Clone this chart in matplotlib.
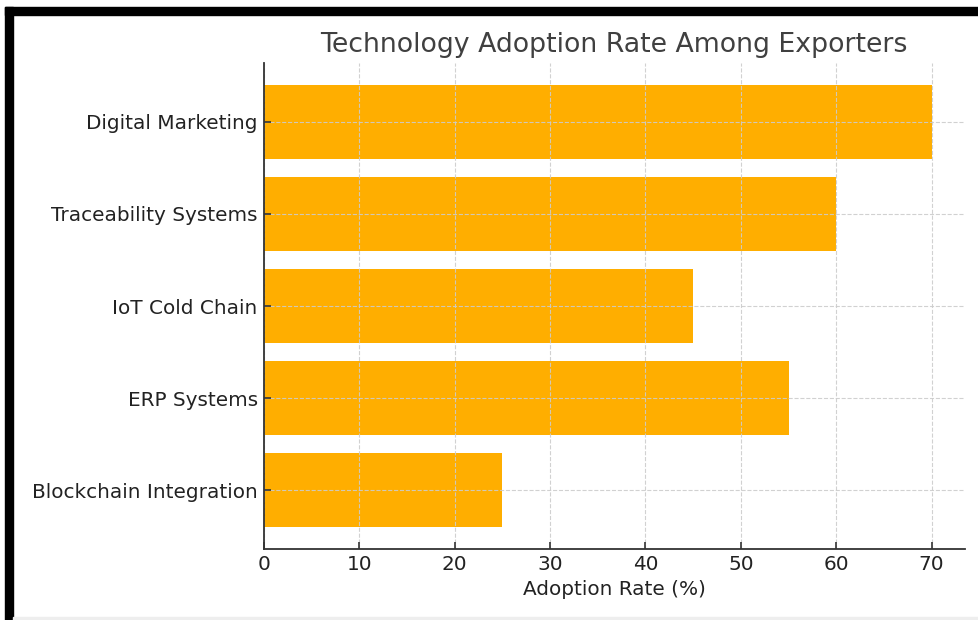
import matplotlib.pyplot as plt
from matplotlib.patches import Rectangle

categories = ["Blockchain Integration", "ERP Systems", "IoT Cold Chain",
              "Traceability Systems", "Digital Marketing"]
adoption = [25, 55, 45, 60, 70]

fig = plt.figure(figsize=(9.79, 6.2), dpi=100)
ax = fig.add_axes([264 / 979, 1 - 549 / 620, 701 / 979, 486 / 620])

ax.barh(categories, adoption, color="#ffae00", height=0.8)
ax.set_xlim(0, 73.5)
ax.grid(True, linestyle="--", color="#cccccc", linewidth=0.8, alpha=0.9)
ax.set_axisbelow(False)

for side in ["top", "right"]:
    ax.spines[side].set_visible(False)
for side in ["left", "bottom"]:
    ax.spines[side].set_color("#333333")
    ax.spines[side].set_linewidth(1.3)
    ax.spines[side].set_zorder(3)

ax.tick_params(direction="in", length=5, width=1.2, color="#333333",
               labelsize=14.4, labelcolor="#222222", pad=4.5)
ax.set_xlabel("Adoption Rate (%)", fontsize=14.4, color="#222222", labelpad=4)
fig.text(0.627, 1 - 45 / 620, "Technology Adoption Rate Among Exporters",
         fontsize=19.3, color="#404040", ha="center", va="center")

# screenshot frame
fig.patches.append(Rectangle((5 / 979, 0), 8 / 979, 1 - 7 / 620, color="black",
                             transform=fig.transFigure, figure=fig))
fig.patches.append(Rectangle((5 / 979, 1 - 15 / 620), 1, 8 / 620, color="black",
                             transform=fig.transFigure, figure=fig))
fig.patches.append(Rectangle((13 / 979, 0), 1, 3 / 620, color="#eeeeee",
                             transform=fig.transFigure, figure=fig))

fig.savefig("out.png", dpi=100)
